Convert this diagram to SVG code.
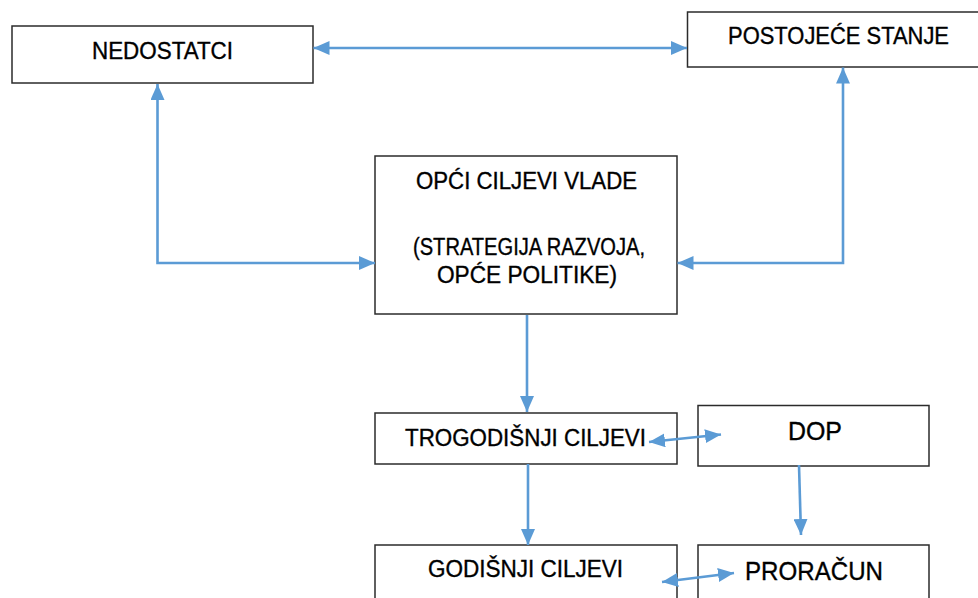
<svg xmlns="http://www.w3.org/2000/svg" width="978" height="598" viewBox="0 0 978 598">
<style>
.box{fill:#fff;stroke:#2b2b2b;stroke-width:1.5}
.t{font-family:"Liberation Sans",Arial,sans-serif;font-size:23px;fill:#000;stroke:#000;stroke-width:0.35;text-anchor:middle}
.tb{font-size:25.5px}
.c{fill:none;stroke:#5B9BD5;stroke-width:2.6}
</style>
<defs>
<marker id="ah" viewBox="0 0 16 14" refX="16" refY="7" markerWidth="16" markerHeight="14" markerUnits="userSpaceOnUse" orient="auto-start-reverse">
<path d="M0,0 L16,7 L0,14 Z" fill="#5B9BD5"/>
</marker>
</defs>
<rect width="978" height="598" fill="#fff"/>
<g id="nedostatci">
<rect class="box" x="12" y="26" width="301" height="57"/>
<text class="t" x="162.5" y="59" textLength="141" lengthAdjust="spacingAndGlyphs">NEDOSTATCI</text>
</g>
<g id="postojece">
<rect class="box" x="687.5" y="12" width="300" height="55"/>
<text class="t" x="838.5" y="44" textLength="221" lengthAdjust="spacingAndGlyphs">POSTOJEĆE STANJE</text>
</g>
<g id="opci">
<rect class="box" x="375" y="156" width="302" height="158"/>
<text class="t" x="526.5" y="189" textLength="221" lengthAdjust="spacingAndGlyphs">OPĆI CILJEVI VLADE</text>
<text class="t" x="529" y="255" textLength="232" lengthAdjust="spacingAndGlyphs">(STRATEGIJA RAZVOJA,</text>
<text class="t" x="527" y="283" textLength="180" lengthAdjust="spacingAndGlyphs">OPĆE POLITIKE)</text>
</g>
<g id="trogodisnji">
<rect class="box" x="375" y="413" width="302" height="51"/>
<text class="t" x="525.5" y="446" textLength="241" lengthAdjust="spacingAndGlyphs">TROGODIŠNJI CILJEVI</text>
</g>
<g id="dop">
<rect class="box" x="698" y="405.5" width="231" height="60.5"/>
<text class="t tb" x="815" y="440" textLength="54" lengthAdjust="spacingAndGlyphs">DOP</text>
</g>
<g id="godisnji">
<rect class="box" x="375" y="545" width="302" height="70"/>
<text class="t" x="525.5" y="577" textLength="195" lengthAdjust="spacingAndGlyphs">GODIŠNJI CILJEVI</text>
</g>
<g id="proracun">
<rect class="box" x="698" y="545" width="231" height="70"/>
<text class="t tb" x="814" y="580" textLength="138" lengthAdjust="spacingAndGlyphs">PRORAČUN</text>
</g>
<g id="connectors">
<line class="c" x1="313.5" y1="48" x2="687" y2="48" marker-start="url(#ah)" marker-end="url(#ah)"/>
<polyline class="c" points="157.5,84 157.5,263 375,263" marker-start="url(#ah)" marker-end="url(#ah)"/>
<polyline class="c" points="843,67.5 843,263 677.5,263" marker-start="url(#ah)" marker-end="url(#ah)"/>
<line class="c" x1="527" y1="315" x2="527" y2="412" marker-end="url(#ah)"/>
<line class="c" x1="528" y1="464" x2="528" y2="545" marker-end="url(#ah)"/>
<line class="c" x1="649" y1="442" x2="721" y2="434.5" marker-start="url(#ah)" marker-end="url(#ah)"/>
<line class="c" x1="799" y1="465" x2="801" y2="535" marker-end="url(#ah)"/>
<line class="c" x1="662" y1="582" x2="734" y2="573" marker-start="url(#ah)" marker-end="url(#ah)"/>
</g>
</svg>
